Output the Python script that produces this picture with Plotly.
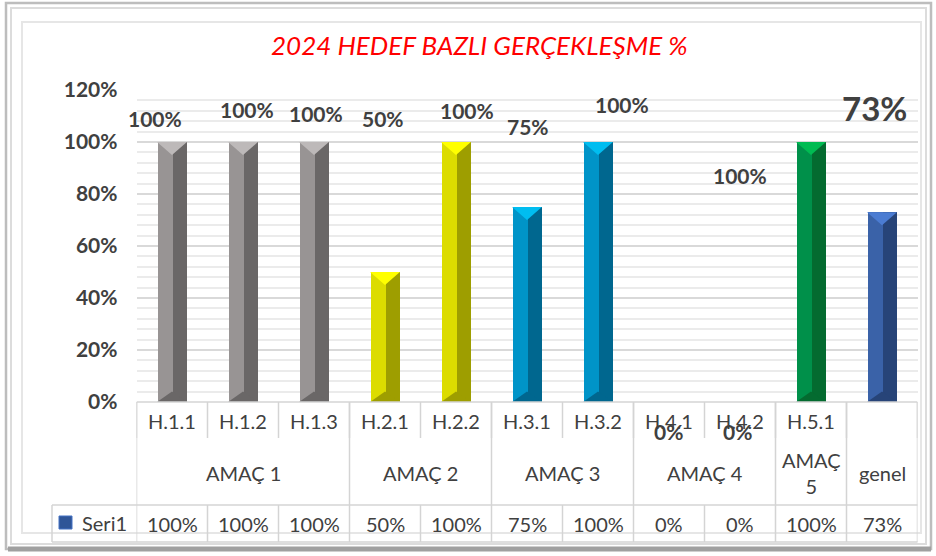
import plotly.graph_objects as go

# ---------------- data ----------------
categories = ["H.1.1", "H.1.2", "H.1.3", "H.2.1", "H.2.2", "H.3.1", "H.3.2",
              "H.4.1", "H.4.2", "H.5.1", ""]
values = [100, 100, 100, 50, 100, 75, 100, 0, 0, 100, 73]
group_labels = ["AMAÇ 1", "AMAÇ 2", "AMAÇ 3", "AMAÇ 4", "AMAÇ<br>5", "genel"]
group_sizes = [3, 2, 2, 2, 1, 1]
series_name = "Seri1"
y_ticks = [0, 20, 40, 60, 80, 100, 120]
title_text = "2024 HEDEF BAZLI GERÇEKLEŞME %"

# ---------------- styles ----------------
W, H = 936, 556
FONT = "Lato"
TXT = "#404040"
GRIDC = "#d9d9d9"
LINEC = "#d4d4d4"
# (left face, right face, top bevel) per group
palette = [
    ("#989494", "#6a6767", "#bdb9b9"),
    ("#dcdc00", "#9e9e00", "#ffff00"),
    ("#0094c8", "#00678f", "#00bdf0"),
    ("#0094c8", "#00678f", "#00bdf0"),
    ("#00904a", "#046b30", "#00bb52"),
    ("#3a62a8", "#274478", "#4b7cd2"),
]
# label placement (x offset in category units, y in axis units)
label_dx = [-0.24, 0.06, 0.03, -0.03, 0.15, 0.01, 0.34, -0.01, -0.04, -1.0, -0.11]
label_y = [109, 112.5, 111, 109, 112, 106, 114.5, -11.5, -11.5, 87, 113]
label_size = [21] * 10 + [33]

bar_half = 0.21
bevel_top = 5.0
bevel_bot = 4.0

x_left_px, x_right_px = 136.5, 917.5
y_top_px, y_bot_px = 90, 402
y_max = 120
px_per_unit = (y_bot_px - y_top_px) / y_max


def px(xp):
    return xp / W


def py(yp):
    return 1 - yp / H


cat_color = []
for g, n in enumerate(group_sizes):
    cat_color += [palette[g]] * n

idx = list(range(len(categories)))

fig = go.Figure()
fig.add_trace(go.Bar(x=idx, y=values, width=bar_half, offset=-bar_half,
                     marker=dict(color=[c[0] for c in cat_color], line=dict(width=0)),
                     showlegend=False, hoverinfo="skip"))
fig.add_trace(go.Bar(x=idx, y=values, width=bar_half, offset=0,
                     marker=dict(color=[c[1] for c in cat_color], line=dict(width=0)),
                     showlegend=False, hoverinfo="skip"))

for i, v in zip(idx, values):
    if v <= 0:
        continue
    fig.add_trace(go.Scatter(
        x=[i - bar_half, i + bar_half, i, i - bar_half],
        y=[v, v, v - bevel_top, v], mode="lines", fill="toself",
        fillcolor=cat_color[i][2], line=dict(width=0), showlegend=False,
        hoverinfo="skip"))
    fig.add_trace(go.Scatter(
        x=[i - bar_half, i + bar_half, i, i - bar_half],
        y=[0, 0, bevel_bot, 0], mode="lines", fill="toself",
        fillcolor=cat_color[i][1], line=dict(width=0), showlegend=False,
        hoverinfo="skip"))

annotations = []
C = dict(xanchor="center", yanchor="middle", showarrow=False)
# data labels
for i, v in zip(idx, values):
    ly = label_y[i]
    annotations.append(dict(
        x=i + label_dx[i], y=max(ly, 0), yshift=min(ly, 0) * px_per_unit,
        xref="x", yref="y", text=f"{v}%", **C,
        font=dict(family=FONT, size=label_size[i], color=TXT, weight="bold")))

# title
annotations.append(dict(x=px(480), y=py(45), xref="paper", yref="paper",
                        text=title_text, **C,
                        font=dict(family=FONT, size=26, color="#ff0000", style="italic")))

# category row
for i, c in zip(idx, categories):
    if c:
        annotations.append(dict(x=i, y=py(421), xref="x", yref="paper", text=c, **C,
                                font=dict(family=FONT, size=20, color=TXT)))
# group row
start = 0
for gl, n in zip(group_labels, group_sizes):
    annotations.append(dict(x=start + (n - 1) / 2, y=py(473), xref="x", yref="paper",
                            text=gl, **C,
                            font=dict(family=FONT, size=20, color=TXT)))
    start += n
# data table row
for i, v in zip(idx, values):
    annotations.append(dict(x=i, y=py(524), xref="x", yref="paper", text=f"{v}%", **C,
                            font=dict(family=FONT, size=20, color=TXT)))
annotations.append(dict(x=px(104), y=py(523), xref="paper", yref="paper",
                        text=series_name, **C,
                        font=dict(family=FONT, size=20, color=TXT)))

shapes = []
# outer frame
shapes.append(dict(type="rect", xref="paper", yref="paper", x0=px(6), x1=px(931),
                   y0=py(549), y1=py(3), line=dict(color="#bdbdbd", width=2.5)))
shapes.append(dict(type="rect", xref="paper", yref="paper", x0=px(11), x1=px(926),
                   y0=py(544), y1=py(8), line=dict(color="#dcdcdc", width=2)))
shapes.append(dict(type="rect", xref="paper", yref="paper", x0=px(22), x1=px(921),
                   y0=py(533), y1=py(22), line=dict(color="#e6e6e6", width=2)))
shapes.append(dict(type="line", xref="paper", yref="paper", x0=px(8), x1=px(931),
                   y0=py(549), y1=py(549), line=dict(color="#a0a0a0", width=5)))

n = len(categories)
# table top line
shapes.append(dict(type="line", xref="x", yref="paper", x0=-0.5, x1=n - 0.5,
                   y0=py(402), y1=py(402), line=dict(color=LINEC, width=1.5)))
# category row verticals
for b in range(n + 1):
    shapes.append(dict(type="line", xref="x", yref="paper", x0=b - 0.5, x1=b - 0.5,
                       y0=py(402), y1=py(438), line=dict(color=LINEC, width=1.5)))
# group verticals
b = 0
bounds = [0]
for g in group_sizes:
    b += g
    bounds.append(b)
for b in bounds:
    shapes.append(dict(type="line", xref="x", yref="paper", x0=b - 0.5, x1=b - 0.5,
                       y0=py(402), y1=py(505), line=dict(color=LINEC, width=1.5)))
# data row
for b in range(n + 1):
    shapes.append(dict(type="line", xref="x", yref="paper", x0=b - 0.5, x1=b - 0.5,
                       y0=py(505), y1=py(542), line=dict(color=LINEC, width=1.5)))
shapes.append(dict(type="line", xref="paper", yref="paper", x0=px(52), x1=px(52),
                   y0=py(505), y1=py(542), line=dict(color=LINEC, width=1.5)))
for yy in (505, 542):
    shapes.append(dict(type="line", xref="paper", yref="paper", x0=px(52), x1=px(x_right_px),
                       y0=py(yy), y1=py(yy), line=dict(color=LINEC, width=1.5)))
# legend key
shapes.append(dict(type="rect", xref="paper", yref="paper", x0=px(59), x1=px(72),
                   y0=py(529), y1=py(516), fillcolor="#2f5597",
                   line=dict(color="#4472c4", width=1)))

fig.update_layout(
    width=W, height=H, autosize=False,
    margin=dict(l=0, r=0, t=0, b=0, autoexpand=False),
    paper_bgcolor="white", plot_bgcolor="white",
    barmode="overlay", bargap=0,
    xaxis=dict(domain=[px(x_left_px), px(x_right_px)], range=[-0.5, n - 0.5],
               showticklabels=False, showgrid=False, zeroline=False, showline=False,
               fixedrange=True, automargin=False),
    yaxis=dict(domain=[py(y_bot_px), py(y_top_px)], range=[0, y_max],
               tickvals=y_ticks, ticktext=[f"{t}%" for t in y_ticks],
               tickfont=dict(family=FONT, size=21, color=TXT, weight="bold"),
               ticks="", ticklabelstandoff=18, automargin=False,
               showgrid=True, gridcolor=GRIDC, gridwidth=2,
               minor=dict(dtick=4, tick0=0, showgrid=True, gridcolor="#ebebeb", gridwidth=1.5),
               zeroline=False, showline=False, fixedrange=True),
    annotations=annotations, shapes=shapes,
    showlegend=False,
)

fig.write_html("out.html", config={"responsive": False, "displayModeBar": False},
               post_script="document.body.style.margin='0';document.body.style.overflow='hidden';")
